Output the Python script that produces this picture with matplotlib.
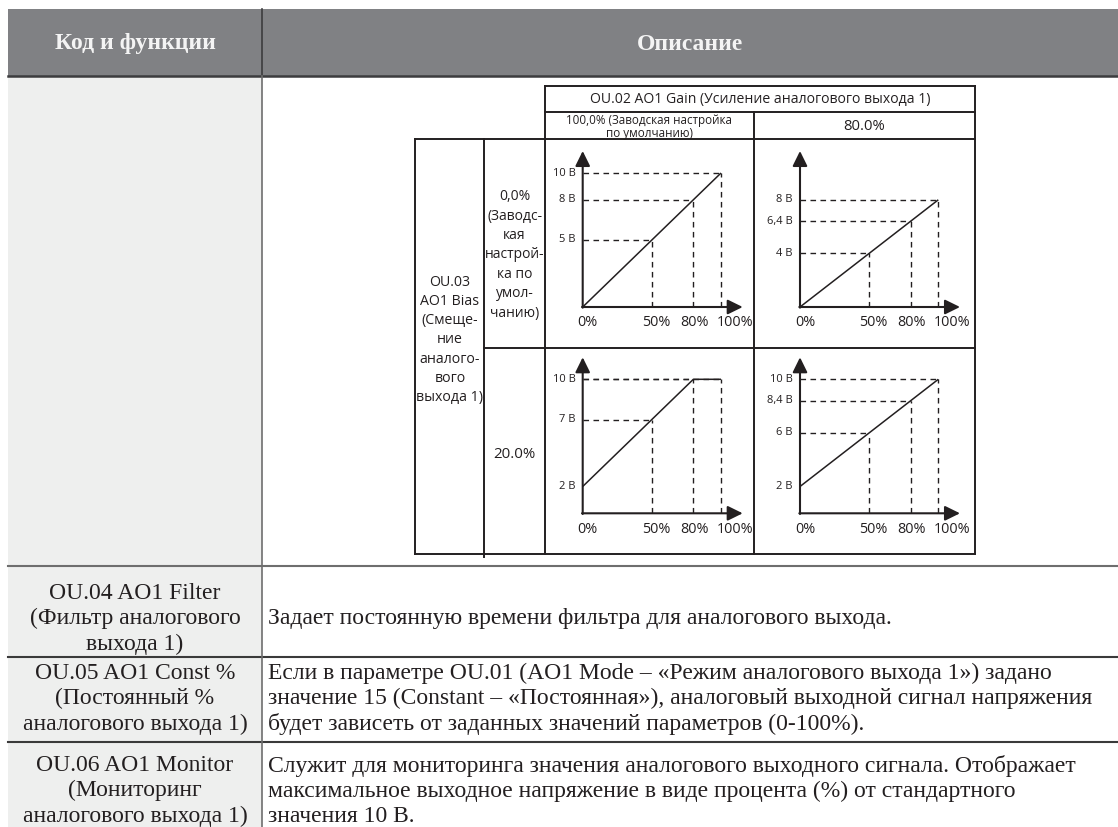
import matplotlib
matplotlib.use("Agg")
import matplotlib.pyplot as plt
from matplotlib.patches import Rectangle

# --- data -------------------------------------------------------------------
header_cols = ["Код и функции", "Описание"]

gain_title = "OU.02 AO1 Gain (Усиление аналогового выхода 1)"
gain_cols = ["100,0% (Заводская настройка\nпо умолчанию)", "80.0%"]
bias_title = "OU.03\nAO1 Bias\n(Смеще-\nние\nаналого-\nвого\nвыхода 1)"
bias_rows = ["0,0%\n(Заводс-\nкая\nнастрой-\nка по\nумол-\nчанию)", "20.0%"]

x_ticks = [0, 50, 80, 100]
x_tick_labels = ["0%", "50%", "80%", "100%"]

# top-left: gain 100 %, bias 0 %
tl_x = [0, 100]
tl_y = [0, 10]
tl_mark_x = [50, 80, 100]
tl_mark_y = [5, 8, 10]
tl_ylab_v = [5, 8, 10]
tl_ylab = ["5 В", "8 В", "10 В"]

# top-right: gain 80 %, bias 0 %
tr_x = [0, 100]
tr_y = [0, 8]
tr_mark_x = [50, 80, 100]
tr_mark_y = [4, 6.4, 8]
tr_ylab_v = [4, 6.4, 8]
tr_ylab = ["4 В", "6,4 В", "8 В"]

# bottom-left: gain 100 %, bias 20 %
bl_x = [0, 80, 100]
bl_y = [2, 10, 10]
bl_mark_x = [50, 80, 100]
bl_mark_y = [7, 10, 10]
bl_ylab_v = [2, 7, 10]
bl_ylab = ["2 В", "7 В", "10 В"]

# bottom-right: gain 80 %, bias 20 %
br_x = [0, 100]
br_y = [2, 10]
br_mark_x = [50, 80, 100]
br_mark_y = [6, 8.4, 10]
br_ylab_v = [2, 6, 8.4, 10]
br_ylab = ["2 В", "6 В", "8,4 В", "10 В"]

row_codes = [
    "OU.04 AO1 Filter\n(Фильтр аналогового\nвыхода 1)",
    "OU.05 AO1 Const %\n(Постоянный %\nаналогового выхода 1)",
    "OU.06 AO1 Monitor\n(Мониторинг\nаналогового выхода 1)",
]
row_desc = [
    "Задает постоянную времени фильтра для аналогового выхода.",
    "Если в параметре OU.01 (AO1 Mode – «Режим аналогового выхода 1») задано\n"
    "значение 15 (Constant – «Постоянная»), аналоговый выходной сигнал напряжения\n"
    "будет зависеть от заданных значений параметров (0-100%).",
    "Служит для мониторинга значения аналогового выходного сигнала. Отображает\n"
    "максимальное выходное напряжение в виде процента (%) от стандартного\n"
    "значения 10 В.",
]

# --- layout -----------------------------------------------------------------
W, H = 1118, 828
fig = plt.figure(figsize=(W / 100, H / 100), dpi=100)
bg = fig.add_axes([0, 0, 1, 1])
bg.set_xlim(0, W)
bg.set_ylim(H, 0)
bg.axis("off")

SERIF = "Liberation Serif"
SANS = "Open Sans"
INK = "#231f20"
HEAD = "#808184"
CELL = "#eeefee"
GRID = "#6e6e6e"

x0, xc, x1 = 8, 262, W
row_y = [77, 567, 658, 743, H]
text_y = [619, 699, 791]

# header
bg.add_patch(Rectangle((x0, 10), x1 - x0, 67, color=HEAD, lw=0))
bg.plot([x0, x1], [77, 77], color="#3c3c3e", lw=1.8)
bg.plot([xc, xc], [10, 77], color="#3c3c3e", lw=1.2)
bg.text((x0 + xc) / 2, 44, header_cols[0], ha="center", va="center",
        family=SERIF, weight="bold", size=17, color="#f4f4f4")
bg.text((xc + x1) / 2, 44, header_cols[1], ha="center", va="center",
        family=SERIF, weight="bold", size=17, color="#f4f4f4")

# body cells
for i in range(len(row_y) - 1):
    bg.add_patch(Rectangle((x0, row_y[i]), xc - x0, row_y[i + 1] - row_y[i],
                           color=CELL, lw=0))
for y in row_y[1:-1]:
    bg.plot([x0, x1], [y, y], color=GRID if y == 567 else "#3a3a3a", lw=1.5)
bg.plot([xc, xc], [77, H], color=GRID, lw=1.2)

for code, desc, yc in zip(row_codes, row_desc, text_y):
    bg.text((x0 + xc) / 2, yc, code, ha="center", va="center", family=SERIF,
            size=17, color=INK, linespacing=1.25)
    bg.text(xc + 6, yc, desc, ha="left", va="center", family=SERIF,
            size=17, color=INK, linespacing=1.25)

# inner diagram grid
lw_in = 1.4
gx = [415, 484, 545, 754, 975]
gy = [87, 113, 140, 349, 555]
bg.plot([gx[2], gx[4]], [gy[0], gy[0]], color=INK, lw=lw_in)
bg.plot([gx[2], gx[4]], [gy[1], gy[1]], color=INK, lw=lw_in)
bg.plot([gx[0], gx[4]], [gy[2], gy[2]], color=INK, lw=lw_in)
bg.plot([gx[1], gx[4]], [gy[3], gy[3]], color=INK, lw=lw_in)
bg.plot([gx[0], gx[4]], [gy[4], gy[4]], color=INK, lw=lw_in)
bg.plot([gx[0], gx[0]], [gy[2], gy[4]], color=INK, lw=lw_in)
bg.plot([gx[1], gx[1]], [gy[2], gy[4] + 3], color=INK, lw=lw_in)
bg.plot([gx[2], gx[2]], [gy[0], gy[4]], color=INK, lw=lw_in)
bg.plot([gx[3], gx[3]], [gy[1], gy[4]], color=INK, lw=lw_in)
bg.plot([gx[4], gx[4]], [gy[0], gy[4]], color=INK, lw=lw_in)

bg.text((gx[2] + gx[4]) / 2, 100, gain_title, ha="center", va="center",
        family=SANS, size=10.1, color=INK)
bg.text((gx[2] + gx[3]) / 2, 127, gain_cols[0], ha="center", va="center",
        family=SANS, size=8.4, color=INK, linespacing=0.95)
bg.text((gx[3] + gx[4]) / 2, 127, gain_cols[1], ha="center", va="center",
        family=SANS, size=10.6, color=INK)
bg.text((gx[0] + gx[1]) / 2 + 0.5, 340, bias_title, ha="center", va="center",
        family=SANS, size=10.2, color=INK, linespacing=1.38)
bg.text((gx[1] + gx[2]) / 2, 255, bias_rows[0], ha="center", va="center",
        family=SANS, size=10, color=INK, linespacing=1.4)
bg.text((gx[1] + gx[2]) / 2, 455, bias_rows[1], ha="center", va="center",
        family=SANS, size=10.8, color=INK)

# --- the four transfer plots --------------------------------------------------
XS = 138.3 / 100   # px per %
YS = 13.4          # px per volt
XMAX, YMAX = 125, 12
xlab_dx = [5, 4, 1, 14]   # px shift of the x labels


def panel(ox, oy, lx, ly, mx, my, yv, ylab):
    ax = fig.add_axes([ox / W, 1 - oy / H, XMAX * XS / W, YMAX * YS / H])
    ax.set_xlim(0, XMAX)
    ax.set_ylim(0, YMAX)
    ax.axis("off")
    ax.patch.set_alpha(0)
    dash = dict(color=INK, lw=1.0, ls=(0, (4, 3.2)))
    for x, y in zip(mx, my):
        ax.plot([0, x], [y, y], **dash)
        ax.plot([x, x], [0, y], **dash)
    ax.plot(lx, ly, color=INK, lw=1.1, solid_capstyle="butt")
    arrow = dict(arrowstyle="-|>,head_length=0.65,head_width=0.32",
                 color=INK, lw=1.5, mutation_scale=14, shrinkA=0, shrinkB=0)
    ax.annotate("", xy=(0, 156 / YS), xytext=(0, -0.05), arrowprops=arrow,
                annotation_clip=False)
    ax.annotate("", xy=(160 / XS, 0), xytext=(-0.5, 0), arrowprops=arrow,
                annotation_clip=False)
    for v, t in zip(yv, ylab):
        ax.annotate(t, (0, v), xytext=(-7, 1), textcoords="offset pixels",
                    ha="right", va="center", family=SANS, size=8,
                    color=INK, annotation_clip=False)
    for xt, t, dx in zip(x_ticks, x_tick_labels, xlab_dx):
        ax.annotate(t, (xt, 0), xytext=(dx, -15), textcoords="offset pixels",
                    ha="center", va="center", family=SANS, size=10.4,
                    color=INK, annotation_clip=False)
    return ax


panel(582.7, 308, tl_x, tl_y, tl_mark_x, tl_mark_y, tl_ylab_v, tl_ylab)
panel(800, 308, tr_x, tr_y, tr_mark_x, tr_mark_y, tr_ylab_v, tr_ylab)
panel(582.7, 514.3, bl_x, bl_y, bl_mark_x, bl_mark_y, bl_ylab_v, bl_ylab)
panel(800, 514.3, br_x, br_y, br_mark_x, br_mark_y, br_ylab_v, br_ylab)

fig.savefig("out.png", dpi=100)
